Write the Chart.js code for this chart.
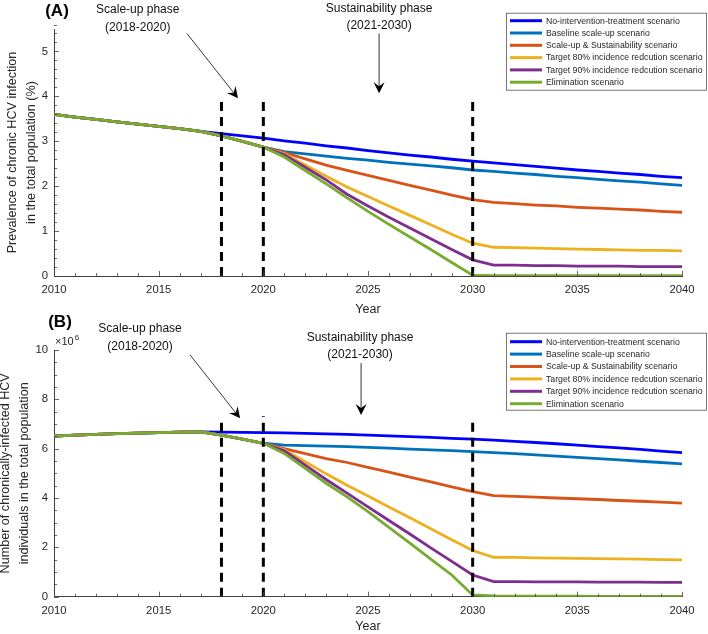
<!DOCTYPE html>
<html>
<head>
<meta charset="utf-8">
<script src="https://cdn.jsdelivr.net/npm/chart.js@4.4.1/dist/chart.umd.min.js"></script>
<style>
  html, body { margin: 0; padding: 0; background: #fff; }
  #wrap { position: relative; width: 708px; height: 634px; overflow: hidden; }
  canvas { position: absolute; left: 0; }
  #chartA { top: 0; }
  #chartB { top: 308px; }
</style>
</head>
<body>
<div id="wrap">
  <canvas id="chartA" width="708" height="317"></canvas>
  <canvas id="chartB" width="708" height="326"></canvas>
</div>
<script>
// ---- data ----
const years = [2010, 2011, 2012, 2013, 2014, 2015, 2016, 2017, 2018, 2019,
  2020, 2021, 2022, 2023, 2024, 2025, 2026, 2027, 2028, 2029,
  2030, 2031, 2032, 2033, 2034, 2035, 2036, 2037, 2038, 2039, 2040];

const scenarioNames = [
  'No-intervention-treatment scenario',
  'Baseline scale-up scenario',
  'Scale-up & Sustainability scenario',
  'Target 80% incidence redcution scenario',
  'Target 90% incidence redcution scenario',
  'Elimination scenario'
];

// panel A: prevalence of chronic HCV infection (%)
const prevNoIntervention = [3.60, 3.54, 3.49, 3.43, 3.38, 3.33, 3.28, 3.22, 3.17, 3.12,
  3.07, 3.01, 2.96, 2.90, 2.85, 2.79, 2.74, 2.69, 2.65, 2.60,
  2.56, 2.52, 2.48, 2.44, 2.40, 2.36, 2.33, 2.29, 2.26, 2.22, 2.19];
const prevBaseline = [3.60, 3.54, 3.49, 3.43, 3.38, 3.33, 3.28, 3.22, 3.12, 3.00,
  2.87, 2.77, 2.72, 2.67, 2.62, 2.58, 2.53, 2.49, 2.45, 2.41,
  2.36, 2.33, 2.29, 2.26, 2.22, 2.19, 2.15, 2.12, 2.09, 2.05, 2.02];
const prevSustain = [3.60, 3.54, 3.49, 3.43, 3.38, 3.33, 3.28, 3.22, 3.12, 3.00,
  2.87, 2.75, 2.61, 2.47, 2.35, 2.24, 2.13, 2.02, 1.91, 1.80,
  1.70, 1.64, 1.61, 1.58, 1.56, 1.53, 1.51, 1.49, 1.47, 1.44, 1.42];
const prevTarget80 = [3.60, 3.54, 3.49, 3.43, 3.38, 3.33, 3.28, 3.22, 3.12, 3.00,
  2.87, 2.72, 2.47, 2.22, 1.98, 1.77, 1.56, 1.35, 1.14, 0.93,
  0.73, 0.64, 0.63, 0.62, 0.61, 0.60, 0.59, 0.58, 0.57, 0.57, 0.56];
const prevTarget90 = [3.60, 3.54, 3.49, 3.43, 3.38, 3.33, 3.28, 3.22, 3.12, 3.00,
  2.87, 2.70, 2.42, 2.14, 1.82, 1.56, 1.31, 1.07, 0.83, 0.59,
  0.36, 0.24, 0.24, 0.23, 0.23, 0.22, 0.22, 0.22, 0.21, 0.21, 0.21];
const prevElimination = [3.60, 3.54, 3.49, 3.43, 3.38, 3.33, 3.28, 3.22, 3.12, 3.00,
  2.87, 2.65, 2.35, 2.05, 1.74, 1.44, 1.15, 0.87, 0.59, 0.30,
  0.02, 0.01, 0.01, 0.01, 0.01, 0.01, 0.01, 0.01, 0.01, 0.01, 0.01];

// panel B: chronically-infected individuals (millions)
const countNoIntervention = [6.51, 6.55, 6.58, 6.61, 6.63, 6.65, 6.67, 6.68, 6.67, 6.66,
  6.65, 6.64, 6.62, 6.60, 6.58, 6.55, 6.52, 6.49, 6.46, 6.42,
  6.39, 6.35, 6.30, 6.25, 6.20, 6.14, 6.08, 6.03, 5.97, 5.90, 5.84];
const countBaseline = [6.51, 6.55, 6.58, 6.61, 6.63, 6.65, 6.67, 6.68, 6.55, 6.39,
  6.22, 6.14, 6.12, 6.10, 6.08, 6.05, 6.02, 5.98, 5.95, 5.92,
  5.88, 5.84, 5.80, 5.75, 5.70, 5.65, 5.60, 5.55, 5.49, 5.44, 5.38];
const countSustain = [6.51, 6.55, 6.58, 6.61, 6.63, 6.65, 6.67, 6.68, 6.55, 6.39,
  6.22, 6.00, 5.80, 5.60, 5.44, 5.24, 5.05, 4.85, 4.65, 4.45,
  4.26, 4.10, 4.07, 4.04, 4.00, 3.97, 3.94, 3.90, 3.87, 3.83, 3.79];
const countTarget80 = [6.51, 6.55, 6.58, 6.61, 6.63, 6.65, 6.67, 6.68, 6.55, 6.39,
  6.22, 5.95, 5.47, 4.98, 4.52, 4.08, 3.64, 3.20, 2.75, 2.31,
  1.87, 1.60, 1.59, 1.57, 1.56, 1.55, 1.54, 1.53, 1.52, 1.50, 1.49];
const countTarget90 = [6.51, 6.55, 6.58, 6.61, 6.63, 6.65, 6.67, 6.68, 6.55, 6.39,
  6.22, 5.92, 5.33, 4.75, 4.20, 3.64, 3.09, 2.54, 1.98, 1.43,
  0.88, 0.61, 0.61, 0.60, 0.60, 0.60, 0.59, 0.59, 0.59, 0.58, 0.58];
const countElimination = [6.51, 6.55, 6.58, 6.61, 6.63, 6.65, 6.67, 6.68, 6.55, 6.39,
  6.22, 5.81, 5.20, 4.60, 4.05, 3.45, 2.81, 2.17, 1.52, 0.88,
  0.07, 0.03, 0.02, 0.02, 0.02, 0.02, 0.01, 0.01, 0.01, 0.01, 0.01];

// phase boundaries (dashed lines) and how high they reach
const phaseYears = [2018, 2020, 2030];
const phaseTopsA = [3.93, 3.98, 3.98];
const phaseTopsB = [7.23, 7.32, 7.27];

const xTicks = [2010, 2015, 2020, 2025, 2030, 2035, 2040];
const yTicksA = [0, 1, 2, 3, 4, 5];
const yTicksB = [0, 2, 4, 6, 8, 10];

// ---- style ----
const scenarioColors = ['#0000ff', '#0072bd', '#d95319', '#edb120', '#7e2f8e', '#77ac30'];
const ink = '#262626';
const axisColor = '#404040';
Chart.defaults.font.family = '"Liberation Sans", Arial, Helvetica, sans-serif';

function drawArrow(ctx, x1, y1, x2, y2) {
  const ang = Math.atan2(y2 - y1, x2 - x1);
  const hl = 11, hw = 5.5, notch = 7;
  ctx.save();
  ctx.strokeStyle = '#000';
  ctx.lineWidth = 0.8;
  ctx.beginPath();
  ctx.moveTo(x1, y1);
  ctx.lineTo(x2 - Math.cos(ang) * notch, y2 - Math.sin(ang) * notch);
  ctx.stroke();
  ctx.translate(x2, y2);
  ctx.rotate(ang);
  ctx.beginPath();
  ctx.moveTo(0, 0);
  ctx.lineTo(-hl, -hw);
  ctx.lineTo(-notch, 0);
  ctx.lineTo(-hl, hw);
  ctx.closePath();
  ctx.fillStyle = '#000';
  ctx.fill();
  ctx.restore();
}

// inward ticks, phase annotations, boxed legend, panel letter
const decorPlugin = {
  id: 'decor',
  afterDraw(chart, args, opts) {
    const ctx = chart.ctx;
    const xs = chart.scales.x, ys = chart.scales.y;
    const area = chart.chartArea;
    ctx.save();

    // ticks pointing into the plot
    ctx.strokeStyle = axisColor;
    ctx.lineWidth = 0.8;
    const nx = Math.round((xs.max - xs.min) / opts.xMinor);
    for (let k = 0; k <= nx; k++) {
      const v = xs.min + k * opts.xMinor;
      const len = xTicks.includes(v) ? 5 : 3;
      const px = Math.round(xs.getPixelForValue(v)) + 0.5;
      ctx.beginPath();
      ctx.moveTo(px, area.bottom);
      ctx.lineTo(px, area.bottom - len);
      ctx.stroke();
    }
    const ny = Math.round((ys.max - ys.min) / opts.yMinor);
    for (let k = 0; k <= ny; k++) {
      const v = +(ys.min + k * opts.yMinor).toFixed(4);
      const len = opts.yTicks.includes(v) ? 5 : 3;
      const py = Math.round(ys.getPixelForValue(v)) + 0.5;
      ctx.beginPath();
      ctx.moveTo(area.left, py);
      ctx.lineTo(area.left + len, py);
      ctx.stroke();
    }

    // phase annotations
    ctx.fillStyle = '#111';
    ctx.font = '12px "Liberation Sans", Arial, sans-serif';
    ctx.textAlign = 'center';
    ctx.textBaseline = 'middle';
    opts.notes.forEach(n => {
      const x = xs.getPixelForValue(n.x);
      ctx.fillText(n.lines[0], x, ys.getPixelForValue(n.y1));
      ctx.fillText(n.lines[1], x, ys.getPixelForValue(n.y2));
      drawArrow(ctx, xs.getPixelForValue(n.from[0]), ys.getPixelForValue(n.from[1]),
        xs.getPixelForValue(n.to[0]), ys.getPixelForValue(n.to[1]));
    });

    // panel letter
    ctx.font = 'bold 17px "Liberation Sans", Arial, sans-serif';
    ctx.fillStyle = '#000';
    ctx.fillText(opts.letter, opts.letterPos[0], opts.letterPos[1]);

    // exponent label
    if (opts.exponent) {
      ctx.fillStyle = ink;
      ctx.textAlign = 'left';
      ctx.font = '11px "Liberation Sans", Arial, sans-serif';
      ctx.fillText('×10', area.left + 1, area.top - 8);
      const w = ctx.measureText('×10').width;
      ctx.font = '8px "Liberation Sans", Arial, sans-serif';
      ctx.fillText('6', area.left + 1 + w + 1, area.top - 12);
    }

    // boxed legend
    const lg = opts.legend;
    ctx.fillStyle = '#fff';
    ctx.fillRect(lg.left, lg.top, lg.width, lg.height);
    ctx.strokeStyle = '#555';
    ctx.lineWidth = 0.8;
    ctx.strokeRect(lg.left + 0.5, lg.top + 0.5, lg.width, lg.height);
    ctx.font = '8.7px "Liberation Sans", Arial, sans-serif';
    ctx.textAlign = 'left';
    ctx.textBaseline = 'middle';
    chart.data.datasets.filter(d => !d.isPhase).forEach((d, i) => {
      const y = lg.top + lg.firstRow + i * lg.rowStep;
      ctx.strokeStyle = d.borderColor;
      ctx.lineWidth = 3;
      ctx.beginPath();
      ctx.moveTo(lg.left + 4, y);
      ctx.lineTo(lg.left + 36, y);
      ctx.stroke();
      ctx.fillStyle = ink;
      ctx.fillText(d.label, lg.left + 40, y + 0.5);
    });
    ctx.restore();
  }
};

function buildDatasets(series, tops) {
  const ds = series.map((vals, i) => ({
    label: scenarioNames[i],
    data: years.map((yr, j) => ({ x: yr, y: vals[j] })),
    borderColor: scenarioColors[i],
    borderWidth: 2.8,
    pointRadius: 0,
    tension: 0,
    fill: false,
    order: series.length - i
  }));
  phaseYears.forEach((yr, k) => ds.push({
    label: 'phase',
    isPhase: true,
    data: [{ x: yr, y: 0 }, { x: yr, y: tops[k] }],
    borderColor: '#000',
    borderWidth: 3,
    borderDash: [9, 6],
    pointRadius: 0,
    order: -1
  }));
  return ds;
}

function makePanel(id, p) {
  return new Chart(document.getElementById(id), {
    type: 'line',
    data: { datasets: buildDatasets(p.series, p.tops) },
    plugins: [decorPlugin],
    options: {
      responsive: false,
      animation: false,
      layout: { padding: { top: p.padTop, right: 26, left: 0, bottom: 0 } },
      plugins: {
        legend: { display: false },
        tooltip: { enabled: false },
        decor: p.decor
      },
      scales: {
        x: {
          type: 'linear',
          min: 2010,
          max: 2040,
          afterBuildTicks: s => { s.ticks = xTicks.map(v => ({ value: v })); },
          afterFit: s => { s.height = p.xHeight; },
          ticks: { color: ink, font: { size: 11.3 }, padding: 7, maxRotation: 0, autoSkip: false,
            callback: v => String(v) },
          grid: { display: false, drawTicks: false },
          border: { display: true, color: axisColor, width: 1 },
          title: { display: true, text: 'Year', color: ink, font: { size: 12.5 }, padding: 0 }
        },
        y: {
          min: 0,
          max: p.yMax,
          afterBuildTicks: s => { s.ticks = p.yTicks.map(v => ({ value: v })); },
          afterFit: s => { s.width = 54; },
          ticks: { color: ink, font: { size: 11.3 }, padding: 6 },
          grid: { display: false, drawTicks: false },
          border: { display: true, color: axisColor, width: 1 },
          title: {
            display: true,
            text: p.yTitle,
            color: ink,
            font: { size: 12.6, lineHeight: 1.5 },
            padding: { top: p.yTitlePad, bottom: 0 }
          }
        }
      }
    }
  });
}

makePanel('chartA', {
  series: [prevNoIntervention, prevBaseline, prevSustain, prevTarget80, prevTarget90, prevElimination],
  tops: phaseTopsA,
  padTop: 29,
  xHeight: 41,
  yMax: 5.5,
  yTicks: yTicksA,
  yTitle: ['Prevalence of chronic HCV infection', 'in the total population (%)'],
  yTitlePad: 3,
  decor: {
    xMinor: 1, yMinor: 0.2, yTicks: yTicksA,
    letter: '(A)', letterPos: [57, 11],
    notes: [
      { x: 2014.0, y1: 5.93, y2: 5.53, lines: ['Scale-up phase', '(2018-2020)'],
        from: [2016.35, 5.40], to: [2018.79, 3.96] },
      { x: 2025.53, y1: 5.96, y2: 5.58, lines: ['Sustainability phase', '(2021-2030)'],
        from: [2025.53, 5.40], to: [2025.53, 4.07] }
    ],
    legend: { left: 506, top: 12.7, width: 200, height: 77, firstRow: 8, rowStep: 12.3 }
  }
});

makePanel('chartB', {
  series: [countNoIntervention, countBaseline, countSustain, countTarget80, countTarget90, countElimination],
  tops: phaseTopsB,
  padTop: 42,
  xHeight: 37.3,
  yMax: 10,
  yTicks: yTicksB,
  yTitle: ['Number of chronically-infected HCV', 'individuals in the total population'],
  yTitlePad: -4,
  decor: {
    xMinor: 1, yMinor: 0.5, yTicks: yTicksB, exponent: true,
    letter: '(B)', letterPos: [60, 14],
    notes: [
      { x: 2014.11, y1: 10.85, y2: 10.12, lines: ['Scale-up phase', '(2018-2020)'],
        from: [2016.5, 9.80], to: [2018.89, 7.23] },
      { x: 2024.62, y1: 10.49, y2: 9.80, lines: ['Sustainability phase', '(2021-2030)'],
        from: [2024.67, 9.47], to: [2024.67, 7.37] }
    ],
    legend: { left: 506, top: 24.7, width: 200, height: 77, firstRow: 9, rowStep: 12.4 }
  }
});
</script>
</body>
</html>
